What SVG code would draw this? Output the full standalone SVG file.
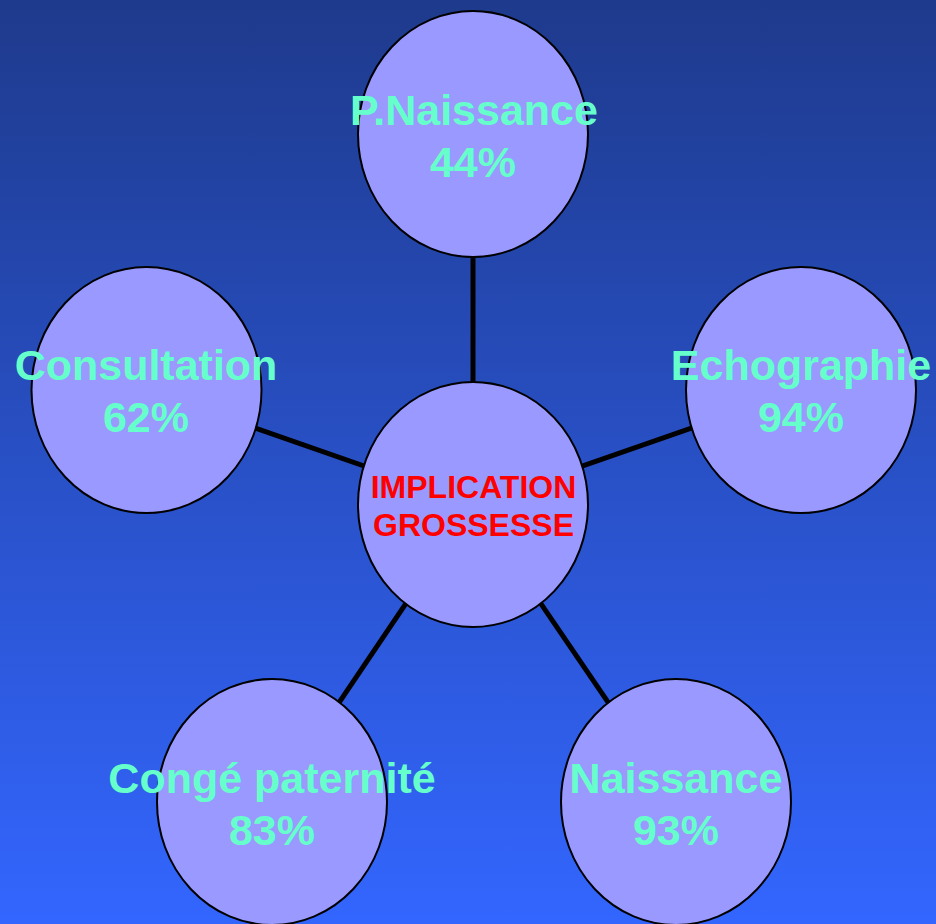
<svg xmlns="http://www.w3.org/2000/svg" width="936" height="924" viewBox="0 0 936 924">
<defs>
<linearGradient id="bg" x1="0" y1="0" x2="0" y2="1">
<stop offset="0" stop-color="#1e3a8c"/>
<stop offset="1" stop-color="#3366ff"/>
</linearGradient>
</defs>
<style>
.node{fill:#9999ff;stroke:#000;stroke-width:2}
.lbl{font-family:"Liberation Sans",Arial,sans-serif;font-weight:bold;font-size:43px;fill:#66ffcc;text-anchor:middle}
.ctr{font-family:"Liberation Sans",Arial,sans-serif;font-weight:bold;font-size:32px;fill:#ff0000;text-anchor:middle}
.conn line{stroke:#000;stroke-width:5}
</style>
<rect width="936" height="924" fill="url(#bg)"/>
<g id="connectors" class="conn">
<line x1="473" y1="134" x2="473" y2="504"/>
<line x1="146.5" y1="390" x2="473" y2="504"/>
<line x1="801" y1="390" x2="473" y2="504"/>
<line x1="272" y1="802" x2="473" y2="504"/>
<line x1="676" y1="802" x2="473" y2="504"/>
</g>
<g id="center">
<ellipse class="node" cx="473" cy="504.5" rx="115" ry="122.5"/>
<text class="ctr" x="473.5" y="498">IMPLICATION</text>
<text class="ctr" x="473.5" y="536">GROSSESSE</text>
</g>
<g id="pnaissance">
<ellipse class="node" cx="473" cy="134" rx="115" ry="123"/>
<text class="lbl" x="474" y="125">P.Naissance</text>
<text class="lbl" x="473" y="177">44%</text>
</g>
<g id="consultation">
<ellipse class="node" cx="146.5" cy="390" rx="115" ry="123"/>
<text class="lbl" x="146" y="380">Consultation</text>
<text class="lbl" x="146" y="432">62%</text>
</g>
<g id="echographie">
<ellipse class="node" cx="801" cy="390" rx="115" ry="123"/>
<text class="lbl" x="801" y="380">Echographie</text>
<text class="lbl" x="801" y="432">94%</text>
</g>
<g id="conge">
<ellipse class="node" cx="272" cy="802" rx="115" ry="123"/>
<text class="lbl" x="272" y="793">Congé paternité</text>
<text class="lbl" x="272" y="845">83%</text>
</g>
<g id="naissance">
<ellipse class="node" cx="676" cy="802" rx="115" ry="123"/>
<text class="lbl" x="676" y="793">Naissance</text>
<text class="lbl" x="676" y="845">93%</text>
</g>
</svg>
